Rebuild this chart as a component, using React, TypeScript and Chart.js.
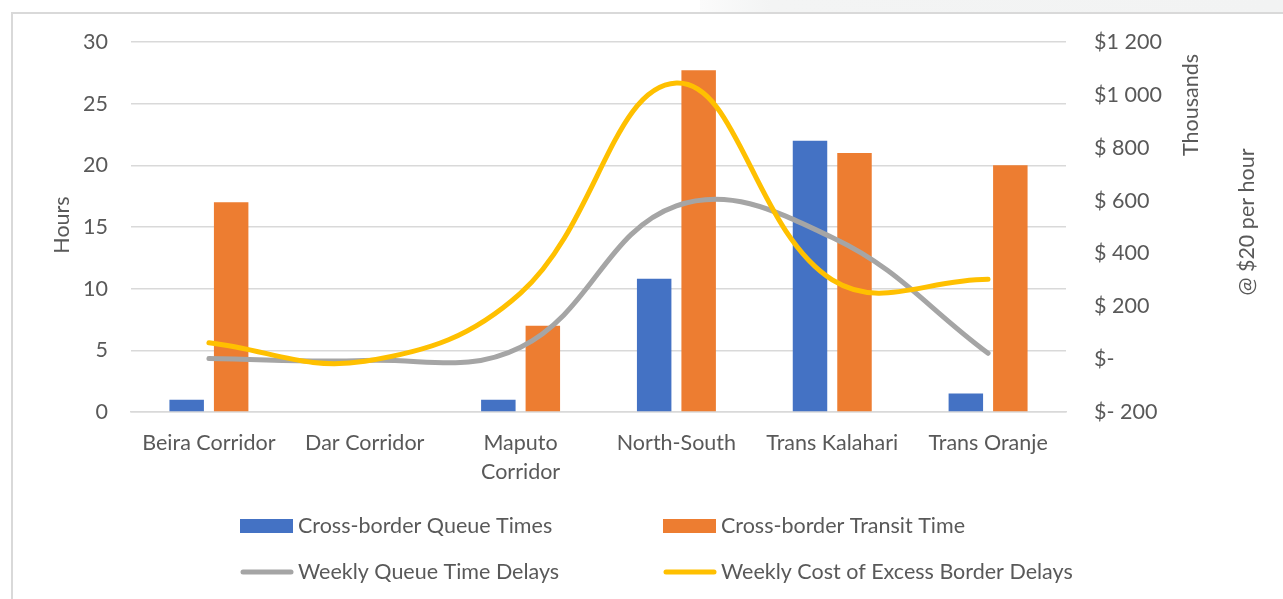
import React, { useEffect, useRef } from "react";
import { Chart, registerables } from "chart.js";

Chart.register(...registerables);

const categories: (string | string[])[] = [
  "Beira Corridor",
  "Dar Corridor",
  ["Maputo", "Corridor"],
  "North-South",
  "Trans Kalahari",
  "Trans Oranje",
];
const queueTimes = [1, 0, 1, 10.8, 22, 1.5];
const transitTimes = [17, 0, 7, 27.7, 21, 20];
const weeklyQueueDelays = [2, -5, 45, 580, 460, 22];
const weeklyCost = [62, -8, 250, 1045, 300, 302];

const leftTicks = { min: 0, max: 30, step: 5 };
const rightTicks = { min: -200, max: 1200, step: 200 };

const FONT = "Lato, 'Liberation Sans', sans-serif";
const FS = 21.5;
const TEXT = "#595959";

function money(v: number): string {
  const fmt = (n: number) =>
    n >= 1000 ? Math.floor(n / 1000) + " " + String(n % 1000).padStart(3, "0") : String(n);
  if (v === 0) return "$-";
  if (v < 0) return "$- " + fmt(-v);
  if (v >= 1000) return "$" + fmt(v);
  return "$ " + fmt(v);
}

const decorPlugin = {
  id: "decor",
  afterDraw(chart: any) {
    const ctx = chart.ctx as CanvasRenderingContext2D;
    ctx.save();
    ctx.fillStyle = TEXT;
    ctx.font = `${FS}px ${FONT}`;
    ctx.textAlign = "center";
    ctx.textBaseline = "middle";
    const rot = (text: string, x: number, y: number) => {
      ctx.save();
      ctx.translate(x, y);
      ctx.rotate(-Math.PI / 2);
      ctx.fillText(text, 0, 0);
      ctx.restore();
    };
    rot("Hours", 62, 225);
    rot("Thousands", 1191, 105);
    rot("@ $20 per hour", 1247, 222);

    // legend
    const ds = chart.data.datasets;
    const pos = [
      [240, 526],
      [663, 526],
      [240, 572],
      [663, 572],
    ];
    ctx.textAlign = "left";
    ds.forEach((d: any, i: number) => {
      const [x, y] = pos[i];
      if (d.type === "line") {
        ctx.strokeStyle = d.borderColor;
        ctx.lineWidth = 5;
        ctx.lineCap = "round";
        ctx.beginPath();
        ctx.moveTo(x + 3, y);
        ctx.lineTo(x + 51, y);
        ctx.stroke();
      } else {
        ctx.fillStyle = d.backgroundColor;
        ctx.fillRect(x, y - 7, 53, 14);
      }
      ctx.fillStyle = TEXT;
      ctx.fillText(d.label, x + 58, y);
    });
    ctx.restore();
  },
};

export default function App() {
  const ref = useRef<HTMLCanvasElement | null>(null);

  useEffect(() => {
    if (!ref.current) return;
    const chart = new Chart(ref.current, {
      type: "bar",
      data: {
        labels: categories as any,
        datasets: [
          {
            type: "bar",
            label: "Cross-border Queue Times",
            data: queueTimes,
            backgroundColor: "#4472C4",
            borderWidth: 0,
            yAxisID: "y",
            order: 2,
            categoryPercentage: 0.571,
            barPercentage: 0.775,
          },
          {
            type: "bar",
            label: "Cross-border Transit Time",
            data: transitTimes,
            backgroundColor: "#ED7D31",
            borderWidth: 0,
            yAxisID: "y",
            order: 2,
            categoryPercentage: 0.571,
            barPercentage: 0.775,
          },
          {
            type: "line",
            label: "Weekly Queue Time Delays",
            data: weeklyQueueDelays,
            borderColor: "#A5A5A5",
            backgroundColor: "#A5A5A5",
            borderWidth: 5,
            borderCapStyle: "round",
            pointRadius: 0,
            tension: 0.4,
            yAxisID: "y1",
            order: 1,
          },
          {
            type: "line",
            label: "Weekly Cost of Excess Border Delays",
            data: weeklyCost,
            borderColor: "#FFC000",
            backgroundColor: "#FFC000",
            borderWidth: 5,
            borderCapStyle: "round",
            pointRadius: 0,
            tension: 0.4,
            yAxisID: "y1",
            order: 0,
          },
        ] as any,
      },
      options: {
        responsive: false,
        animation: false,
        devicePixelRatio: 1,
        layout: { padding: { top: 42, bottom: 87, left: 0, right: 0 } },
        plugins: {
          legend: { display: false },
          tooltip: { enabled: false },
        },
        scales: {
          x: {
            grid: { display: false },
            border: { display: true, color: "#d9d9d9", width: 1.5 },
            ticks: {
              color: TEXT,
              font: { family: FONT, size: FS, lineHeight: 1.35 },
              padding: 9,
              maxRotation: 0,
              autoSkip: false,
            },
            afterFit: (s: any) => {
              s.height = 100;
            },
          },
          y: {
            position: "left",
            min: leftTicks.min,
            max: leftTicks.max,
            ticks: {
              stepSize: leftTicks.step,
              color: TEXT,
              font: { family: FONT, size: FS },
              padding: 23,
            },
            grid: { color: "#d9d9d9", lineWidth: 1.5, drawTicks: false },
            border: { display: false },
            afterFit: (s: any) => {
              s.width = 131;
            },
          },
          y1: {
            position: "right",
            min: rightTicks.min,
            max: rightTicks.max,
            ticks: {
              stepSize: rightTicks.step,
              color: TEXT,
              font: { family: FONT, size: FS },
              padding: 28,
              callback: (v: any) => money(Number(v)),
            },
            grid: { display: false, drawTicks: false },
            border: { display: false },
            afterFit: (s: any) => {
              s.width = 217;
            },
          },
        },
      } as any,
      plugins: [decorPlugin],
    });
    return () => chart.destroy();
  }, []);

  return (
    <div
      style={{
        position: "fixed",
        left: 0,
        top: 0,
        width: 1283,
        height: 599,
        background: "#ffffff",
        overflow: "hidden",
      }}
    >
      <div
        style={{
          position: "absolute",
          left: 700,
          top: 0,
          width: 583,
          height: 12,
          background: "linear-gradient(90deg, #fbfbfb 0%, #f3f4f4 12%, #f2f3f3 100%)",
        }}
      />
      <div
        style={{
          position: "absolute",
          left: 11,
          top: 12,
          width: 1300,
          height: 620,
          borderLeft: "2px solid #d9d9d9",
          borderTop: "2px solid #d9d9d9",
        }}
      />
      <canvas
        ref={ref}
        width={1283}
        height={599}
        style={{ position: "absolute", left: 0, top: 0 }}
      />
    </div>
  );
}
